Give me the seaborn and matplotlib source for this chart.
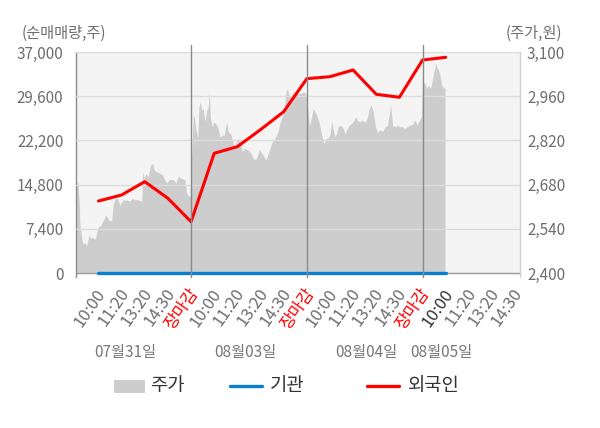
import numpy as np
import pandas as pd
import matplotlib
matplotlib.use("Agg")
import matplotlib.pyplot as plt
import matplotlib.transforms as mtransforms
from matplotlib.patches import Rectangle
from matplotlib.lines import Line2D
import seaborn as sns

# ---- data ----
day_labels = ["07월31일", "08월03일", "08월04일", "08월05일"]
tick_labels = ["10:00", "11:20", "13:20", "14:30", "장마감"] * 3 + ["10:00", "11:20", "13:20", "14:30"]

# net buying (shares), one value per tick slot 1..16
foreign = [12050, 13060, 15290, 12510, 8590, 20040, 21150, 24000,
           27000, 32530, 32870, 33990, 29920, 29420, 35660, 36110]
institution = [0] * 16

# intraday price (won), position in tick slots
price_pos_d1 = [0.03, 0.11, 0.17, 0.20, 0.27, 0.32, 0.42, 0.49, 0.56, 0.60, 0.66, 0.75,
                0.85, 0.92, 0.99, 1.10, 1.21, 1.31, 1.38, 1.47, 1.57, 1.64, 1.71, 1.81,
                1.93, 2.05, 2.22, 2.36, 2.45, 2.58, 2.72, 2.87, 2.91, 2.97, 3.05, 3.15,
                3.25, 3.34, 3.41, 3.51, 3.63, 3.77, 3.87, 3.95, 4.06, 4.23, 4.35, 4.45,
                4.59, 4.73, 4.81, 4.95]
price_d1 = [2689, 2685, 2625, 2551, 2514, 2494, 2495, 2485, 2510, 2520, 2510, 2514,
            2506, 2525, 2546, 2551, 2567, 2583, 2577, 2565, 2567, 2615, 2636, 2636,
            2615, 2631, 2631, 2628, 2636, 2633, 2631, 2628, 2720, 2699, 2715, 2704,
            2742, 2747, 2726, 2720, 2717, 2710, 2694, 2684, 2696, 2696, 2684, 2707,
            2699, 2696, 2652, 2641]

price_pos_d2 = [5.00, 5.10, 5.14, 5.20, 5.29, 5.34, 5.40, 5.46, 5.53, 5.60, 5.67, 5.74,
                5.79, 5.83, 5.92, 6.00, 6.11, 6.18, 6.25, 6.35, 6.43, 6.54, 6.61, 6.72,
                6.82, 6.90, 6.97, 7.04, 7.11, 7.21, 7.33, 7.47, 7.59, 7.69, 7.79, 7.88,
                7.96, 8.05, 8.12, 8.22, 8.31, 8.41, 8.51, 8.62, 8.74, 8.84, 8.94, 9.03,
                9.10, 9.17, 9.23, 9.35, 9.46, 9.56, 9.63, 9.75, 9.85, 9.95]
price_d2 = [2731, 2900, 2895, 2858, 2826, 2927, 2942, 2916, 2921, 2879, 2911, 2927,
            2974, 2895, 2863, 2879, 2868, 2853, 2831, 2837, 2835, 2879, 2847, 2839,
            2810, 2800, 2816, 2826, 2816, 2786, 2795, 2789, 2779, 2763, 2757, 2773,
            2792, 2779, 2773, 2757, 2773, 2795, 2816, 2826, 2845, 2874, 2895, 2916,
            2974, 2985, 2958, 2964, 2974, 2964, 2969, 2969, 2974, 2969]

price_pos_d3 = [10.02, 10.11, 10.21, 10.28, 10.35, 10.43, 10.54, 10.64, 10.74, 10.83,
                10.93, 11.00, 11.07, 11.14, 11.22, 11.29, 11.36, 11.46, 11.57, 11.65,
                11.72, 11.83, 11.94, 12.04, 12.12, 12.18, 12.30, 12.41, 12.51, 12.61,
                12.70, 12.77, 12.87, 12.94, 13.04, 13.16, 13.28, 13.38, 13.48, 13.56,
                13.62, 13.71, 13.81, 13.91, 14.02, 14.14, 14.24, 14.34, 14.46, 14.57,
                14.67, 14.77, 14.86, 14.95]
price_d3 = [2942, 2863, 2895, 2921, 2911, 2900, 2874, 2837, 2810, 2826,
            2828, 2837, 2881, 2853, 2831, 2842, 2863, 2868, 2858, 2842,
            2853, 2868, 2874, 2884, 2895, 2884, 2879, 2884, 2877, 2890,
            2921, 2932, 2911, 2874, 2845, 2853, 2849, 2863, 2868, 2900,
            2932, 2868, 2863, 2868, 2863, 2863, 2858, 2863, 2868, 2871,
            2884, 2868, 2884, 2895]

price_pos_d4 = [15.00, 15.10, 15.18, 15.25, 15.35, 15.44, 15.51, 15.57, 15.64, 15.72,
                15.83, 15.90, 15.97]
price_d4 = [3006, 3001, 2985, 2995, 2985, 3017, 3043, 3064, 3048, 3038, 2995, 2985, 2987]

left_ticks = [0, 7400, 14800, 22200, 29600, 37000]
right_ticks = [2400, 2540, 2680, 2820, 2960, 3100]

# ---- frames ----
price_df = pd.DataFrame({
    "pos": price_pos_d1 + price_pos_d2 + price_pos_d3 + price_pos_d4,
    "price": price_d1 + price_d2 + price_d3 + price_d4,
})
slots = np.arange(1, len(foreign) + 1)
flow_df = pd.DataFrame({"slot": slots, "foreign": foreign, "institution": institution})

# ---- style ----
sns.set_style("white")
plt.rcParams["font.family"] = ["Noto Sans CJK KR", "DejaVu Sans"]
grey_txt = "#6e6e6e"
area_col = "#cdcdcd"
red = "#ff0000"
blue = "#0b7fcf"
tick_fs = 11

fig = plt.figure(figsize=(6.0, 4.28), dpi=100)
W, H = 600, 428
ax = fig.add_axes([76 / W, 1 - 273 / H, 444 / W, 221 / H])
ax.set_facecolor("#f4f4f4")

# price area (right axis)
ax.fill_between(price_df["pos"], price_df["price"], 2400, color=area_col, lw=0, zorder=1)
ax.set_xlim(0.03, 19.21)
ax.set_ylim(2400, 3100)

# flow lines (left axis), on top
ax2 = ax.twinx()
ax.yaxis.tick_right()
ax.yaxis.set_label_position("right")
ax2.yaxis.tick_left()
ax2.yaxis.set_label_position("left")
ax.set_yticks(right_ticks)
ax.set_yticklabels([f"{v:,}" for v in right_ticks])
ax2.set_ylim(0, 37000)
ax2.set_yticks(left_ticks)
ax2.set_yticklabels([f"{v:,}" for v in left_ticks])
ax2.grid(axis="y", color="#dcdcdc", lw=1)
ax2.set_axisbelow(False)
sns.lineplot(data=flow_df, x="slot", y="institution", ax=ax2, color=blue, lw=2.4,
             clip_on=False, zorder=3)
sns.lineplot(data=flow_df, x="slot", y="foreign", ax=ax2, color=red, lw=2.2, zorder=4)
ax2.set_xlabel("")
ax2.set_ylabel("")

for a in (ax, ax2):
    a.tick_params(axis="y", length=0, labelsize=tick_fs, labelcolor=grey_txt)
    for s in a.spines.values():
        s.set_visible(False)
ax.tick_params(axis="y", pad=5)
ax2.tick_params(axis="y", pad=9)

# x ticks
ax.set_xticks(np.arange(1, len(tick_labels) + 1))
ax.set_xticklabels(tick_labels, rotation=55, ha="right", rotation_mode="anchor")
ax.tick_params(axis="x", length=0, labelsize=12, pad=9)
shift = mtransforms.ScaledTranslation(-3 / 100, 0, fig.dpi_scale_trans)
for i, t in enumerate(ax.get_xticklabels()):
    t.set_transform(t.get_transform() + shift)
    if t.get_text() == "장마감":
        t.set_color(red)
    elif i == 15:
        t.set_color("#333333")
    else:
        t.set_color(grey_txt)

# frame lines
trans = mtransforms.blended_transform_factory(ax.transData, ax.transAxes)
ax.plot([0.03, 0.03], [-0.02, 1.0], transform=trans, color="#8a8a8a", lw=1, clip_on=False, zorder=5)
ax.plot([19.21, 19.21], [-0.02, 1.0], transform=trans, color="#d0d0d0", lw=1, clip_on=False, zorder=5)
ax.plot([0.03, 19.21], [0.0, 0.0], transform=trans, color="#999999", lw=1, clip_on=False, zorder=2)
for xs in (5, 10, 15):
    ax2.plot([xs, xs], [-0.02, 1.03], transform=mtransforms.blended_transform_factory(ax2.transData, ax2.transAxes),
             color="#8a8a8a", lw=1, clip_on=False, zorder=5)

# axis captions
fig.text(22 / W, 1 - 33 / H, "(순매매량,주)", color=grey_txt, fontsize=tick_fs, ha="left", va="center")
fig.text(562 / W, 1 - 33 / H, "(주가,원)", color=grey_txt, fontsize=tick_fs, ha="right", va="center")

# day labels
dtrans = mtransforms.blended_transform_factory(ax.transData, fig.transFigure)
for xs, lab in zip([2.14, 7.33, 12.56, 15.80], day_labels):
    fig.text(xs, 1 - 353 / H, lab, transform=dtrans, color="#777777", fontsize=tick_fs,
             ha="center", va="center")

# legend
ly = 1 - 386 / H
fig.patches.append(Rectangle((114 / W, 1 - 393 / H), 31 / W, 13 / H, transform=fig.transFigure,
                             color=area_col, lw=0))
fig.text(150 / W, ly, "주가", fontsize=13.5, color="#333333", va="center")
fig.lines.append(Line2D([230 / W, 262 / W], [ly, ly], transform=fig.transFigure, color=blue, lw=2.4))
fig.text(270 / W, ly, "기관", fontsize=13.5, color="#333333", va="center")
fig.lines.append(Line2D([367 / W, 399 / W], [ly, ly], transform=fig.transFigure, color=red, lw=2.4))
fig.text(408 / W, ly, "외국인", fontsize=13.5, color="#333333", va="center")

fig.savefig("out.png", dpi=100)
